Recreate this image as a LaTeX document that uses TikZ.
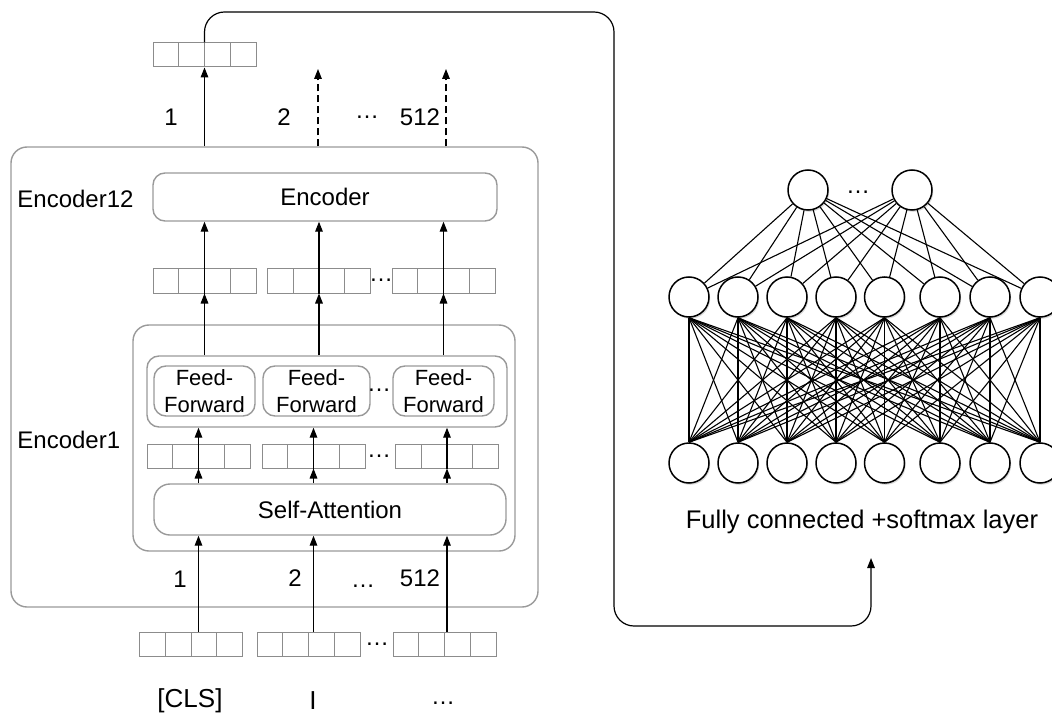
\documentclass[tikz,border=0pt]{standalone}
\usepackage{fontspec}
\setmainfont{Liberation Sans}
\usetikzlibrary{arrows.meta,calc,shadows}
\definecolor{boxgray}{HTML}{999999}
\definecolor{cellgray}{HTML}{8C8C8C}
\begin{document}
\begin{tikzpicture}[x=0.5pt,y=-0.5pt,
  rbox/.style={draw=boxgray, line width=0.7pt, rounded corners=6pt, inner sep=0pt, font=\fontsize{12}{14}\selectfont},
  vec/.style={draw=cellgray, line width=0.5pt, minimum width=51.5pt, minimum height=12pt, inner sep=0pt,
    path picture={\foreach \k in {1,2,3}{\draw[draw=cellgray,line width=0.5pt]
      ($(path picture bounding box.south west)!\k/4!(path picture bounding box.south east)$) --
      ($(path picture bounding box.north west)!\k/4!(path picture bounding box.north east)$);}}},
  arr/.style={-{Triangle[length=5pt,width=3.8pt]}, line width=0.6pt},
  lbl/.style={font=\fontsize{12}{14}\selectfont, inner sep=0pt},
  ffbox/.style={rbox, minimum height=25pt, align=center, font=\fontsize{11}{13.5}\selectfont},
  neuron/.style={circle, draw, line width=0.75pt, fill=white, minimum size=20pt, inner sep=0pt,
    drop shadow={shadow xshift=0.6pt, shadow yshift=-0.9pt, opacity=0.3}},
  nnline/.style={line width=0.55pt}
]
\useasboundingbox (0,0) rectangle (1052,716);

% boxes
\node[rbox, rounded corners=8pt, minimum width=263.5pt, minimum height=230pt] (outer) at (274.5,377) {};
\node[rbox, minimum width=172pt, minimum height=24pt] (enc12) at (325,197) {Encoder};
\node[rbox, rounded corners=8pt, minimum width=191pt, minimum height=113pt] (enc1) at (324,438) {};
\node[rbox, minimum width=180pt, minimum height=35.5pt] (ffc) at (327,391.5) {};
\node[ffbox, minimum width=50.5pt] (ff1) at (204.5,391) {Feed-\\Forward};
\node[ffbox, minimum width=53.5pt] (ff2) at (316.5,391) {Feed-\\Forward};
\node[ffbox, minimum width=50.5pt] (ff3) at (443.5,391) {Feed-\\Forward};
\node[rbox, rounded corners=8pt, minimum width=176pt, minimum height=25.5pt] (sa) at (330,509.5) {Self-Attention};

\node[lbl, anchor=west] (l12) at (17,199) {Encoder12};
\node[lbl, anchor=west] (l1) at (17,440) {Encoder1};

% vectors
\node[vec] (vtop) at (204.5,55) {};
\node[vec] (v21) at (204.5,281) {};
\node[vec] (v22) at (319,281) {};
\node[vec] (v23) at (443.5,281) {};
\node[vec] (v31) at (198.5,456) {};
\node[vec] (v32) at (313.5,456) {};
\node[vec] (v33) at (447,456) {};
\node[vec] (vb1) at (191,644) {};
\node[vec] (vb2) at (308.5,644) {};
\node[vec] (vb3) at (444.5,644) {};

% dots
\node[lbl] (dt) at (367,117) {…};
\node[lbl] (d2r) at (381,280) {…};
\node[lbl] (dff) at (379,390) {…};
\node[lbl] (d3r) at (379,456) {…};
\node[lbl] (dlb) at (363,586) {…};
\node[lbl] (dvb) at (377,644) {…};
\node[lbl] (dtok) at (443,703) {…};

% labels
\node[lbl] (t1l) at (171,117) {1};
\node[lbl] (t2l) at (284,117) {2};
\node[lbl] (t512) at (420,117) {512};
\node[lbl] (b1l) at (180,579) {1};
\node[lbl] (b2l) at (295,578) {2};
\node[lbl] (b512) at (420,578) {512};
\node[lbl, font=\fontsize{13}{15}\selectfont] (cls) at (190,701) {[CLS]};
\node[lbl, font=\fontsize{13}{15}\selectfont] (ii) at (313,701) {I};

% arrows
\coordinate (d2) at (318,69);
\coordinate (d3) at (446,69);
\draw[arr] (vtop |- outer.north) -- (vtop.south);
\draw[arr, dashed, dash pattern=on 3.5pt off 2pt] (d2 |- outer.north) -- (d2);
\draw[arr, dashed, dash pattern=on 3.5pt off 2pt] (d3 |- outer.north) -- (d3);
\foreach \v in {v21,v22,v23}{
  \draw[arr] (\v.south) -- (\v |- enc12.south);
  \draw[arr] (\v |- ffc.north) -- (\v.south);
}
\foreach \v in {v31,v32,v33}{
  \draw[arr] (\v |- sa.north) -- (\v.south);
  \draw[arr] (\v.south) -- (\v |- ffc.south);
}
\draw[arr] (v31 |- vb1.north) -- (v31 |- sa.south);
\draw[arr] (v32 |- vb2.north) -- (v32 |- sa.south);
\draw[arr] (v33 |- vb3.north) -- (v33 |- sa.south);

% connector
\coordinate (ctop) at (614,12);
\coordinate (cbl) at (614,626);
\coordinate (cbr) at (871,626);
\coordinate (fcin) at (871,558);
\draw[arr, rounded corners=10pt] (vtop.north) |- (ctop) -- (cbl) -- (cbr) -- (fcin);

% neural network
\node[neuron] (t1) at (808,190) {};
\node[neuron] (t2) at (912,190) {};
\node[lbl] (dnn) at (858,192) {…};
\foreach \x [count=\i] in {689,738,787,836,884.5,940,990,1040}{
  \node[neuron] (m\i) at (\x,297) {};
  \node[neuron] (b\i) at (\x,463) {};
}
\foreach \i in {1,2}{\foreach \j in {1,...,8}{\draw[nnline] (t\i) -- (m\j);}}
\foreach \i in {1,...,8}{\foreach \j in {1,...,8}{\draw[nnline] (m\i.south) -- (b\j.north);}}
\node[lbl, font=\fontsize{12.75}{15}\selectfont] (fcl) at (862,522) {Fully connected +softmax layer};
\end{tikzpicture}
\end{document}
